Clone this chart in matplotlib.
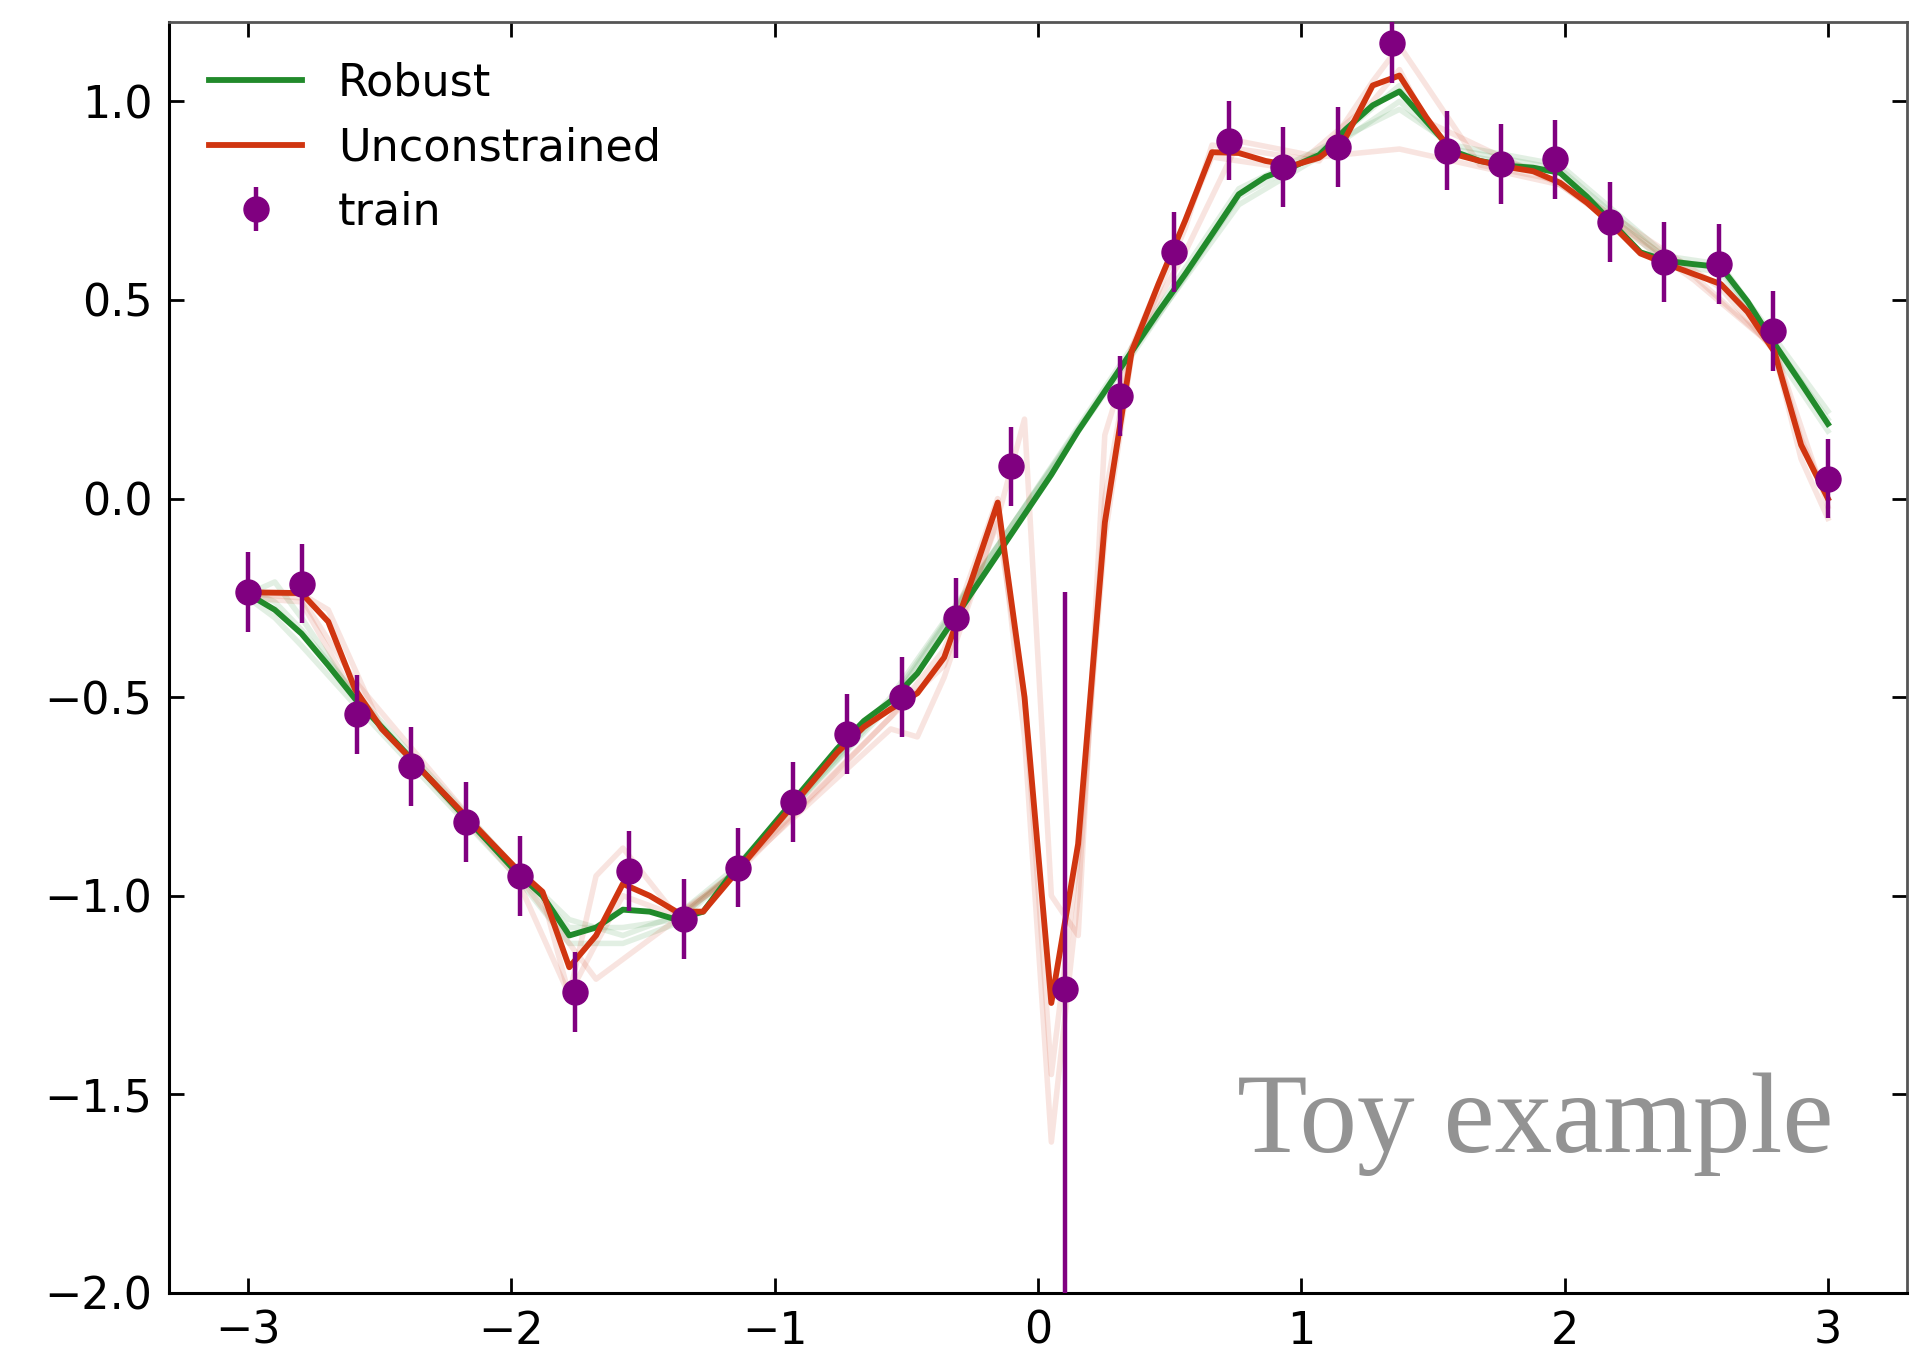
import numpy as np
import matplotlib
matplotlib.use("Agg")
import matplotlib.pyplot as plt

# ---------------- data ----------------
# training points (30 points on [-3, 3])
train_x = np.linspace(-3, 3, 30)
train_y = [-0.235, -0.214, -0.543, -0.674, -0.814, -0.950, -1.242, -0.938, -1.059, -0.929,
           -0.764, -0.593, -0.500, -0.301, 0.081, -1.236, 0.258, 0.621, 0.901, 0.835,
           0.885, 1.146, 0.876, 0.842, 0.854, 0.696, 0.596, 0.590, 0.422, 0.050]
train_err = [0.1] * 15 + [1.0] + [0.1] * 14

# prediction grid (60 points on [-3, 3])
grid_x = np.linspace(-3, 3, 60)
robust_y = [-0.24, -0.28, -0.34, -0.42, -0.504, -0.576, -0.648, -0.721, -0.794, -0.866,
            -0.939, -1.00, -1.10, -1.08, -1.035, -1.04, -1.06, -1.04, -0.95, -0.87,
            -0.79, -0.71, -0.63, -0.56, -0.51, -0.44, -0.34, -0.24, -0.14, -0.04,
            0.06, 0.17, 0.27, 0.37, 0.47, 0.565, 0.665, 0.766, 0.81, 0.835,
            0.865, 0.93, 0.99, 1.025, 0.95, 0.875, 0.85, 0.838, 0.833, 0.82,
            0.76, 0.69, 0.62, 0.598, 0.59, 0.583, 0.496, 0.39, 0.29, 0.188]
uncon_y = [-0.236, -0.237, -0.238, -0.31, -0.48, -0.58, -0.65, -0.72, -0.79, -0.86,
           -0.93, -0.99, -1.18, -1.10, -0.97, -1.00, -1.04, -1.04, -0.96, -0.88,
           -0.80, -0.72, -0.64, -0.575, -0.53, -0.49, -0.40, -0.21, -0.01, -0.50,
           -1.27, -0.87, -0.06, 0.37, 0.54, 0.70, 0.872, 0.87, 0.85, 0.838,
           0.858, 0.91, 1.04, 1.065, 0.96, 0.868, 0.85, 0.835, 0.824, 0.795,
           0.745, 0.685, 0.617, 0.59, 0.565, 0.54, 0.47, 0.37, 0.135, 0.0]

# faint ensemble members (knots)
red_a_x = [-3, -2.797, -2.695, -2.492, -1.881, -1.780, -1.678, -1.576, -1.373, -1.169,
           -0.559, -0.356, -0.153, -0.051, 0.051, 0.153, 0.254, 0.356, 0.661, 0.966,
           1.271, 1.373, 1.475, 1.983, 2.492, 2.797, 2.898, 3.0]
red_a_y = [-0.24, -0.24, -0.28, -0.58, -1.0, -1.25, -1.12, -1.0, -1.05, -0.96,
           -0.55, -0.38, 0.0, -0.6, -1.62, -1.0, 0.0, 0.38, 0.86, 0.83,
           1.0, 1.08, 0.95, 0.79, 0.56, 0.38, 0.15, 0.0]
red_b_x = [-3, -2.797, -2.593, -1.983, -1.780, -1.678, -1.576, -1.373, -1.169, -0.559,
           -0.458, -0.356, -0.153, -0.051, 0.051, 0.153, 0.254, 0.356, 0.559, 0.763,
           1.068, 1.373, 1.576, 1.983, 2.492, 2.797, 3.0]
red_b_y = [-0.25, -0.26, -0.5, -0.95, -1.25, -0.95, -0.88, -1.05, -0.95, -0.58,
           -0.6, -0.45, -0.05, 0.2, -1.0, -1.1, 0.16, 0.38, 0.62, 0.9,
           0.86, 0.88, 0.85, 0.79, 0.55, 0.38, -0.02]
red_c_x = [-3, -2.797, -2.593, -1.983, -1.780, -1.678, -1.373, -1.169, -0.559, -0.356,
           -0.153, -0.051, 0.051, 0.153, 0.254, 0.356, 0.559, 0.661, 1.068, 1.271,
           1.373, 1.475, 1.678, 1.983, 2.593, 2.797, 2.898, 3.0]
red_c_y = [-0.24, -0.25, -0.46, -0.94, -1.12, -1.21, -1.06, -0.95, -0.55, -0.42,
           -0.06, -0.5, -1.45, -0.9, -0.1, 0.36, 0.68, 0.89, 0.85, 1.05,
           1.14, 1.04, 0.84, 0.8, 0.53, 0.37, 0.1, -0.05]
green_x = [-3, -2.898, -2.797, -2.593, -1.983, -1.780, -1.576, -1.373, -1.169, -0.559,
           0.356, 0.763, 1.068, 1.373, 1.576, 1.983, 2.390, 2.593, 3.0]
green_a_y = [-0.24, -0.21, -0.30, -0.50, -0.94, -1.08, -1.08, -1.06, -0.95, -0.51,
             0.37, 0.74, 0.86, 1.0, 0.88, 0.83, 0.60, 0.58, 0.20]
green_b_y = [-0.25, -0.30, -0.37, -0.52, -0.95, -1.12, -1.12, -1.07, -0.95, -0.50,
             0.36, 0.76, 0.87, 1.04, 0.87, 0.82, 0.59, 0.57, 0.17]
green_c_y = [-0.23, -0.26, -0.33, -0.49, -0.93, -1.06, -1.10, -1.05, -0.94, -0.52,
             0.38, 0.78, 0.88, 0.98, 0.89, 0.84, 0.61, 0.59, 0.22]

GREEN = "#218a2b"
RED = "#d03510"
PURPLE = "#800080"

plt.rcParams["font.family"] = ["DejaVu Sans"]
plt.rcParams["font.size"] = 32

fig = plt.figure(figsize=(19.33, 13.45), dpi=100)
ax = fig.add_axes([0.0874, 0.0387, 0.8991, 0.945])

# faint ensemble members first
for gy in (green_a_y, green_b_y, green_c_y):
    ax.plot(green_x, gy, color=GREEN, lw=4, alpha=0.13)
for fx, fy in ((red_a_x, red_a_y), (red_b_x, red_b_y), (red_c_x, red_c_y)):
    ax.plot(fx, fy, color=RED, lw=4, alpha=0.13)

ax.plot(grid_x, robust_y, color=GREEN, lw=4.2, label="Robust")
ax.plot(grid_x, uncon_y, color=RED, lw=4.2, label="Unconstrained")
ax.errorbar(train_x, train_y, yerr=train_err, fmt="o", color=PURPLE,
            ms=18, elinewidth=3.2, capsize=0, label="train", zorder=5)

ax.text(3.02, -1.645, "Toy example", family="Liberation Serif", fontsize=83,
        color="#939393", ha="right", va="baseline")

ax.set_xlim(-3.3, 3.3)
ax.set_ylim(-2.0, 1.2)
ax.set_xticks([-3, -2, -1, 0, 1, 2, 3])
ax.set_yticks([-2.0, -1.5, -1.0, -0.5, 0.0, 0.5, 1.0])
ax.tick_params(direction="in", top=True, right=True, length=11, width=2,
               labelsize=32, pad=12)
for side in ("left", "bottom"):
    ax.spines[side].set_linewidth(2.2)
for side in ("top", "right"):
    ax.spines[side].set_linewidth(2.0)
    ax.spines[side].set_color("#555555")

ax.legend(loc="upper left", frameon=False, fontsize=32, handlelength=2.1,
          handletextpad=0.8, labelspacing=0.48)

fig.savefig("out.png", dpi=100)
